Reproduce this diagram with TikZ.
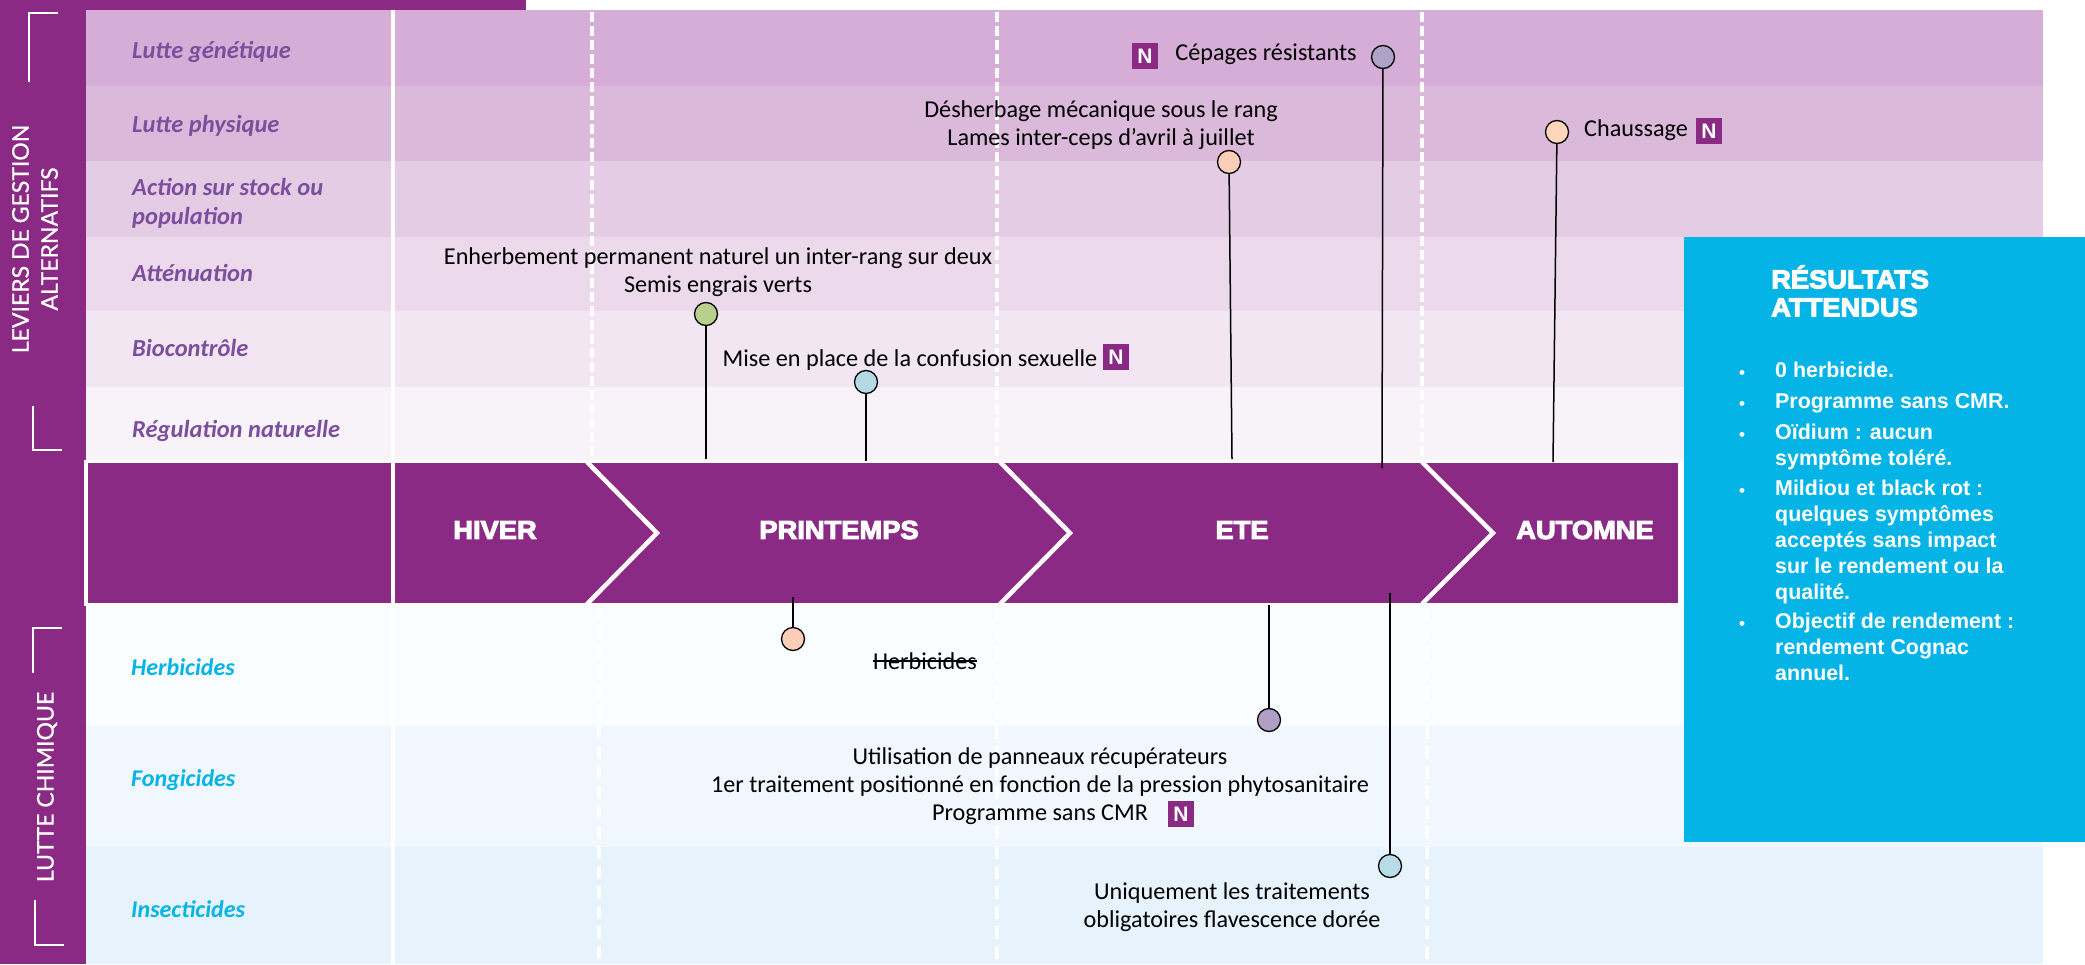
\documentclass[tikz,border=0pt]{standalone}
\usepackage{fontspec}
\setmainfont{Carlito}
\newfontfamily\capsfont[FakeBold=0.7]{Lato}
\newfontfamily\arialfont{Liberation Sans}
\newfontfamily\blackfont[FakeBold=4,FakeStretch=1.05]{Liberation Sans Bold}
\usetikzlibrary{positioning}

\definecolor{vigne}{HTML}{8B2A84}
\definecolor{ciel}{HTML}{05B4E6}
\definecolor{lever}{HTML}{7C4F9E}

\tikzset{
  lever/.style={anchor=west,inner sep=0,text=lever,font=\fontsize{24.5}{29}\selectfont\bfseries\itshape,align=left},
  chem/.style={anchor=west,inner sep=0,text=ciel,font=\fontsize{24}{29}\selectfont\bfseries\itshape},
  note/.style={inner sep=0,text=black,font=\fontsize{24.2}{28.5}\selectfont,align=center},
  season/.style={inner sep=0,text=white,font=\fontsize{26}{28}\blackfont},
  sidelabel/.style={rotate=90,inner sep=0,text=white,align=center,font=\fontsize{23}{29}\capsfont},
  newtag/.style={fill=vigne,text=white,inner sep=0,minimum width=26,minimum height=26,font=\fontsize{21}{21}\arialfont\bfseries},
  pin/.style={circle,draw=black,line width=1.3,minimum size=23,inner sep=0},
  stem/.style={black,line width=1.5},
  bracket/.style={white,line width=2.5},
  solidsep/.style={white,line width=4.5},
  dashsep/.style={white,line width=3.5,dash pattern=on 10pt off 4pt},
  dashlow/.style={white,line width=3.5,dash pattern=on 13pt off 7pt},
  restext/.style={anchor=north west,inner sep=0,text=white,align=left,font=\fontsize{21.4}{26}\arialfont\bfseries},
  resdot/.style={inner sep=0,text=white,font=\fontsize{17}{17}\arialfont\bfseries},
}

\begin{document}
\begin{tikzpicture}[x=1pt,y=-1pt]
  \useasboundingbox (0,0) rectangle (2085,964);

  % bands on the left and top
  \fill [vigne] (0,0) rectangle (86,964);
  \fill [vigne] (0,0) rectangle (526,10);

  % rows
  \foreach \ytop/\ybot/\tint in {10/86/D6ADD6,86/161/DBB9DB,161/237/E5CCE5,237/311/ECD9EC,311/387/F2E6F3,387/462/F8F2F9,
      604/726/FAFDFF,726/847/F0F7FE,847/964/E6F3FC} {
    \definecolor{rowtint}{HTML}{\tint}
    \fill [rowtint] (86,\ytop) rectangle (2043,\ybot);
  }

  % season separators
  \draw [solidsep] (393,10) -- (393,964);
  \draw [dashsep] (592,12) -- (592,460);
  \draw [dashsep] (997,12) -- (997,460);
  \draw [dashsep] (1422,12) -- (1422,460);
  \draw [dashlow] (599,606) -- (599,964);
  \draw [dashlow] (997,606) -- (997,964);
  \draw [dashlow] (1427,606) -- (1427,964);

  % banner
  \draw [white,line width=3.5,fill=vigne] (86,461.5) rectangle (1680,604.5);
  \draw [solidsep] (393,461.5) -- (393,604.5);
  \draw [white,line width=4.5] (587,462) -- (657,533) -- (587,604);
  \draw [white,line width=4.5] (1000,462) -- (1070,533) -- (1000,604);
  \draw [white,line width=4.5] (1422,462) -- (1493,533) -- (1422,604);
  \node [season] (hiver) at (495,530) {HIVER};
  \node [season] (printemps) at (839,530) {PRINTEMPS};
  \node [season] (ete) at (1242,530) {ETE};
  \node [season] (automne) at (1585,530) {AUTOMNE};

  % left column
  \node [sidelabel] (leviers) at (35,239) {LEVIERS DE GESTION\\ALTERNATIFS};
  \node [sidelabel] (chimique) at (47,787) {LUTTE CHIMIQUE};
  \draw [bracket] (58,13) -- (29,13) -- (29,82);
  \draw [bracket] (33,406) -- (33,450) -- (62,450);
  \draw [bracket] (62,628) -- (33,628) -- (33,673);
  \draw [bracket] (35,900) -- (35,945) -- (64,945);

  % row labels
  \node [lever] (genetique) at (132,52) {Lutte génétique};
  \node [lever] (physique) at (132,126) {Lutte physique};
  \node [lever] (stock) at (132,203) {Action sur stock ou\\population};
  \node [lever] (attenuation) at (132,273) {Atténuation};
  \node [lever] (biocontrole) at (132,348) {Biocontrôle};
  \node [lever] (regulation) at (132,431) {Régulation naturelle};
  \node [chem] (herbi) at (131,667) {Herbicides};
  \node [chem] (fongi) at (131,780) {Fongicides};
  \node [chem] (insecti) at (131,909) {Insecticides};

  % notes
  \node [note] (cepages) at (1266,54) {Cépages résistants};
  \node [newtag] (tagcepages) at (1145,56) {N};
  \node [note] (desherbage) at (1101,125) {Désherbage mécanique sous le rang\\Lames inter-ceps d’avril à juillet};
  \node [note,anchor=west] (chaussage) at (1584,130) {Chaussage};
  \node [newtag] (tagchaussage) at (1709,131) {N};
  \node [note] (enherbement) at (718,272) {Enherbement permanent naturel un inter-rang sur deux\\Semis engrais verts};
  \node [note] (confusion) at (910,360) {Mise en place de la confusion sexuelle};
  \node [newtag] (tagconfusion) at (1116,357) {N};
  \node [note] (barre) at (925,661) {Herbicides};
  \draw [black,line width=1.5] (barre.west) -- (barre.east);
  \node [note] (panneaux) at (1040,772) {Utilisation de panneaux récupérateurs\\1er traitement positionné en fonction de la pression phytosanitaire};
  \node [note] (programme) at (1040,815) {Programme sans CMR};
  \node [newtag] (tagprogramme) at (1181,814) {N};
  \node [note] (uniquement) at (1232,907) {Uniquement les traitements\\obligatoires flavescence dorée};

  % pins above the banner
  \node [pin,fill={rgb,255:red,176;green,163;blue,200}] (pincepages) at (1383,57) {};
  \node [pin,fill={rgb,255:red,252;green,205;blue,184}] (pindesherb) at (1229,162) {};
  \node [pin,fill={rgb,255:red,252;green,213;blue,188}] (pinchaussage) at (1557,132) {};
  \node [pin,fill={rgb,255:red,184;green,207;blue,142}] (pinsemis) at (706,314) {};
  \node [pin,fill={rgb,255:red,180;green,218;blue,230}] (pinconfusion) at (866,382) {};
  \coordinate (endcepages) at (1382,468);
  \coordinate (enddesherb) at (1232,459);
  \coordinate (endchaussage) at (1553,462);
  \coordinate (endsemis) at (706,459);
  \coordinate (endconfusion) at (866,461);
  \draw [stem] (pincepages) -- (endcepages);
  \draw [stem] (pindesherb) -- (enddesherb);
  \draw [stem] (pinchaussage) -- (endchaussage);
  \draw [stem] (pinsemis) -- (endsemis);
  \draw [stem] (pinconfusion) -- (endconfusion);

  % pins below the banner
  \node [pin,fill={rgb,255:red,252;green,205;blue,184}] (pinherbi) at (793,639) {};
  \node [pin,fill={rgb,255:red,176;green,159;blue,197}] (pinfongi) at (1269,720) {};
  \node [pin,fill={rgb,255:red,183;green,220;blue,232}] (pininsecti) at (1390,866) {};
  \coordinate (startherbi) at (793,597);
  \coordinate (startfongi) at (1269,605);
  \coordinate (startinsecti) at (1390,593);
  \draw [stem] (startherbi) -- (pinherbi);
  \draw [stem] (startfongi) -- (pinfongi);
  \draw [stem] (startinsecti) -- (pininsecti);

  % results box
  \fill [ciel] (1684,237) rectangle (2085,842);
  \node [anchor=west,inner sep=0,text=white,align=left,font=\fontsize{26}{28}\blackfont] (resultats) at (1771,291) {RÉSULTATS\\ATTENDUS};
  \foreach \n/\ypos/\txt in {a/362/{0 herbicide.},
      b/393/{Programme sans CMR.},
      c/424/{Oïdium : aucun\\symptôme toléré.},
      d/480/{Mildiou et black rot :\\quelques symptômes\\acceptés sans impact\\sur le rendement ou la\\qualité.},
      e/613/{Objectif de rendement :\\rendement Cognac\\annuel.}} {
    \node [restext] (item\n) at (1775,\ypos) {\txt};
    \node [resdot,below=8pt of item\n.north west,xshift=-33pt] (dot\n) {•};
  }
\end{tikzpicture}
\end{document}
